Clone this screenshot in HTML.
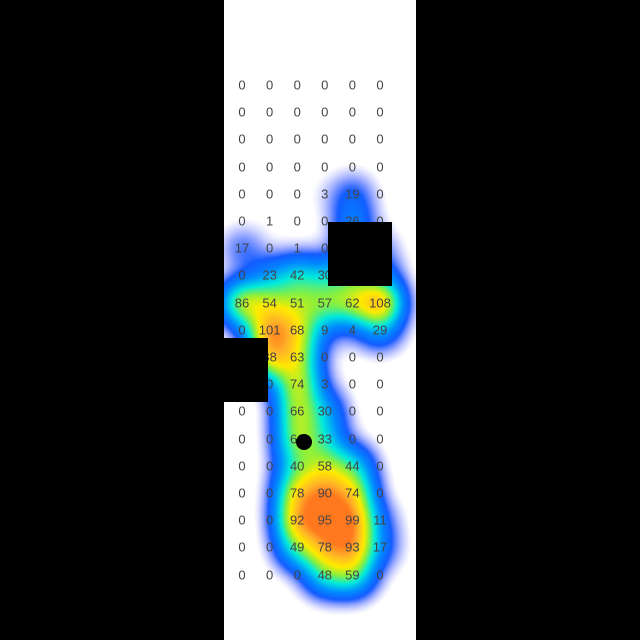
<!DOCTYPE html>
<html><head><meta charset="utf-8"><style>
html,body{margin:0;padding:0;background:#000;width:640px;height:640px;overflow:hidden}
#strip{position:absolute;left:224px;top:0;width:192px;height:640px;background:#fff}
canvas{position:absolute;left:224px;top:0}
.lbl{position:absolute;font:13px "Liberation Sans",sans-serif;color:#444;transform:translate(-50%,-50%);white-space:nowrap}
.blk{position:absolute;background:#000}
</style></head><body>
<div id="strip"></div>
<canvas id="heat" width="192" height="640"></canvas>
<div id="labels"></div>
<div class="blk" style="left:328px;top:222px;width:64px;height:64px"></div>
<div class="blk" style="left:224px;top:338px;width:44px;height:64px"></div>
<div style="position:absolute;left:296px;top:434px;width:16px;height:16px;border-radius:50%;background:#000"></div>
<script>
const rowValues = [
 [0,0,0,0,0,0],[0,0,0,0,0,0],[0,0,0,0,0,0],[0,0,0,0,0,0],
 [0,0,0,3,19,0],[0,1,0,0,26,0],[17,0,1,0,20,10],[0,23,42,30,40,20],
 [86,54,51,57,62,108],[0,101,68,9,4,29],[0,88,63,0,0,0],[0,0,74,3,0,0],
 [0,0,66,30,0,0],[0,0,66,33,0,0],[0,0,40,58,44,0],[0,0,78,90,74,0],
 [0,0,92,95,99,11],[0,0,49,78,93,17],[0,0,0,48,59,0]
];
const colX = c => 242 + c*27.6;
const rowY = r => 85 + r*27.2;
const labels = document.getElementById('labels');
rowValues.forEach((row,r)=>row.forEach((v,c)=>{
  const d=document.createElement('div');
  d.className='lbl';
  
  
  d.style.left=colX(c)+'px';d.style.top=rowY(r)+'px';
  d.textContent=v;labels.appendChild(d);
}));
const cv=document.getElementById('heat'),ctx=cv.getContext('2d');
const W=192,H=640;
const acc=new Float32Array(W*H);
const sig=16;
rowValues.forEach((row,r)=>row.forEach((v,c)=>{
  if(!v)return;
  const cx=colX(c)-224,cy=rowY(r);
  for(let y=Math.max(0,Math.floor(cy-55));y<Math.min(H,cy+55);y++)
   for(let x=Math.max(0,Math.floor(cx-55));x<Math.min(W,cx+55);x++){
     const d2=(x-cx)**2+(y-cy)**2;
     acc[y*W+x]+=v*Math.exp(-d2/(2*sig*sig));
   }
}));
const stops=[[0,[40,40,255]],[0.25,[0,140,255]],[0.42,[0,235,220]],[0.58,[140,240,60]],[0.72,[255,235,0]],[0.88,[255,180,40]],[1,[255,120,30]]];
function col(t){for(let i=1;i<stops.length;i++){if(t<=stops[i][0]){const a=stops[i-1],b=stops[i],f=(t-a[0])/(b[0]-a[0]);return a[1].map((x,k)=>x+(b[1][k]-x)*f);}}return stops[stops.length-1][1];}
const img=ctx.createImageData(W,H);
for(let i=0;i<W*H;i++){
  const v=acc[i];if(v<3)continue;
  let t=Math.min(1,v/175);
  const c=col(t);
  const a=Math.min(1,(v-3)/20);
  img.data[i*4]=c[0];img.data[i*4+1]=c[1];img.data[i*4+2]=c[2];img.data[i*4+3]=a*255;
}
ctx.putImageData(img,0,0);
</script>
</body></html>
